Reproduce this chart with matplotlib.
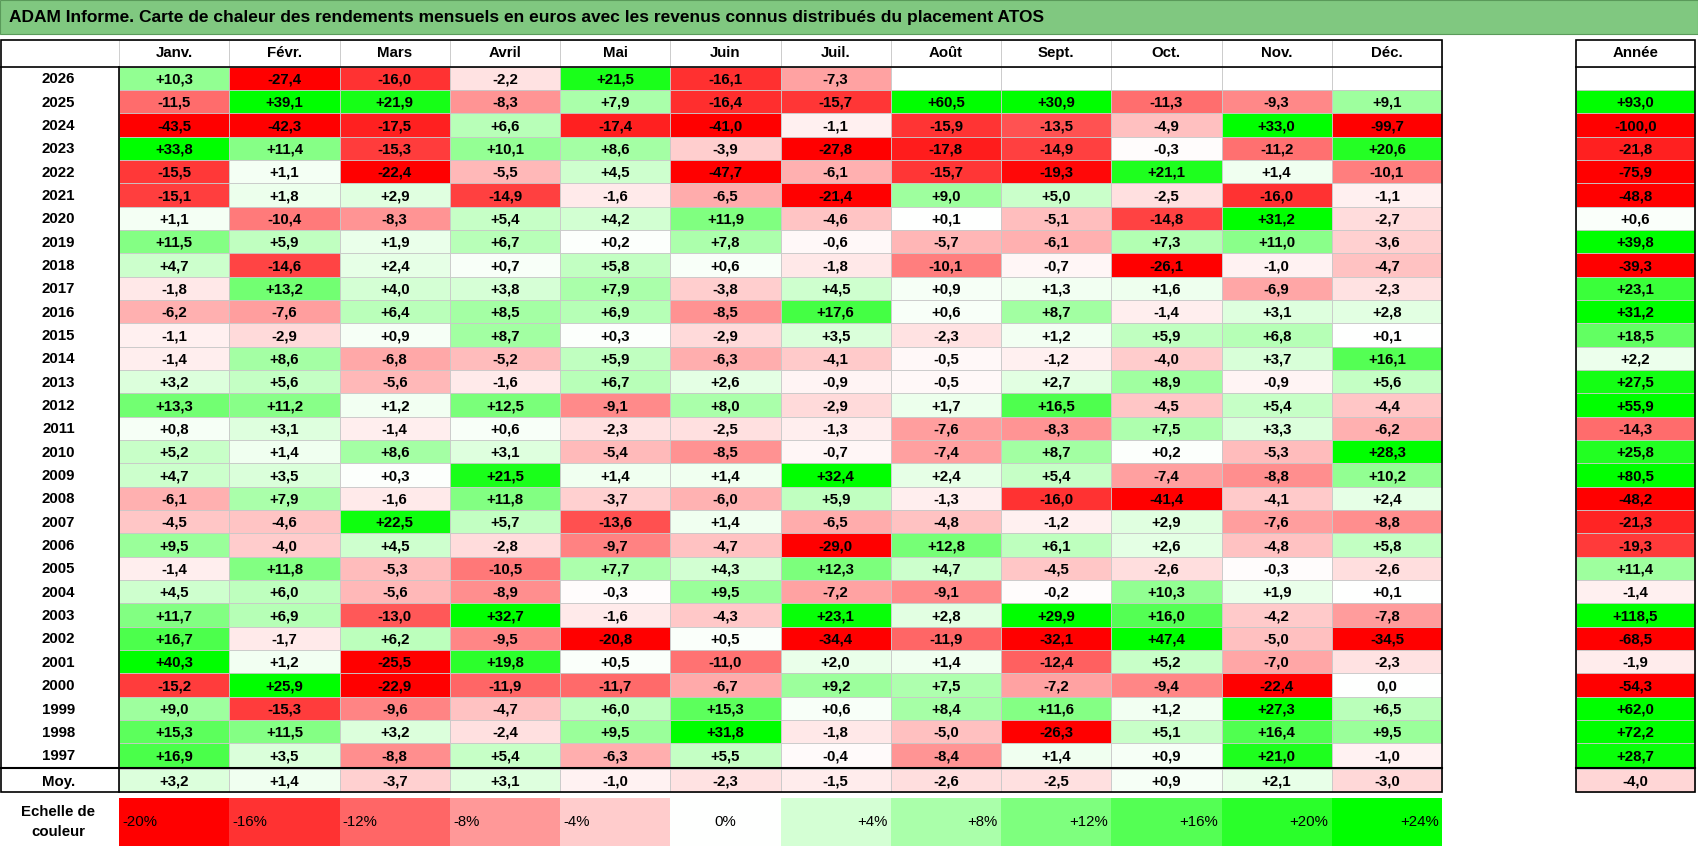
import numpy as np
import matplotlib.pyplot as plt
from matplotlib.patches import Rectangle
from matplotlib.colors import LinearSegmentedColormap, TwoSlopeNorm

TITLE = "ADAM Informe. Carte de chaleur des rendements mensuels en euros avec les revenus connus distribués du placement ATOS"
months = ["Janv.", "Févr.", "Mars", "Avril", "Mai", "Juin", "Juil.", "Août", "Sept.", "Oct.", "Nov.", "Déc."]
years = list(range(2026, 1996, -1))
nan = np.nan
monthly = [
    [10.3, -27.4, -16.0, -2.2, 21.5, -16.1, -7.3, nan, nan, nan, nan, nan],
    [-11.5, 39.1, 21.9, -8.3, 7.9, -16.4, -15.7, 60.5, 30.9, -11.3, -9.3, 9.1],
    [-43.5, -42.3, -17.5, 6.6, -17.4, -41.0, -1.1, -15.9, -13.5, -4.9, 33.0, -99.7],
    [33.8, 11.4, -15.3, 10.1, 8.6, -3.9, -27.8, -17.8, -14.9, -0.3, -11.2, 20.6],
    [-15.5, 1.1, -22.4, -5.5, 4.5, -47.7, -6.1, -15.7, -19.3, 21.1, 1.4, -10.1],
    [-15.1, 1.8, 2.9, -14.9, -1.6, -6.5, -21.4, 9.0, 5.0, -2.5, -16.0, -1.1],
    [1.1, -10.4, -8.3, 5.4, 4.2, 11.9, -4.6, 0.1, -5.1, -14.8, 31.2, -2.7],
    [11.5, 5.9, 1.9, 6.7, 0.2, 7.8, -0.6, -5.7, -6.1, 7.3, 11.0, -3.6],
    [4.7, -14.6, 2.4, 0.7, 5.8, 0.6, -1.8, -10.1, -0.7, -26.1, -1.0, -4.7],
    [-1.8, 13.2, 4.0, 3.8, 7.9, -3.8, 4.5, 0.9, 1.3, 1.6, -6.9, -2.3],
    [-6.2, -7.6, 6.4, 8.5, 6.9, -8.5, 17.6, 0.6, 8.7, -1.4, 3.1, 2.8],
    [-1.1, -2.9, 0.9, 8.7, 0.3, -2.9, 3.5, -2.3, 1.2, 5.9, 6.8, 0.1],
    [-1.4, 8.6, -6.8, -5.2, 5.9, -6.3, -4.1, -0.5, -1.2, -4.0, 3.7, 16.1],
    [3.2, 5.6, -5.6, -1.6, 6.7, 2.6, -0.9, -0.5, 2.7, 8.9, -0.9, 5.6],
    [13.3, 11.2, 1.2, 12.5, -9.1, 8.0, -2.9, 1.7, 16.5, -4.5, 5.4, -4.4],
    [0.8, 3.1, -1.4, 0.6, -2.3, -2.5, -1.3, -7.6, -8.3, 7.5, 3.3, -6.2],
    [5.2, 1.4, 8.6, 3.1, -5.4, -8.5, -0.7, -7.4, 8.7, 0.2, -5.3, 28.3],
    [4.7, 3.5, 0.3, 21.5, 1.4, 1.4, 32.4, 2.4, 5.4, -7.4, -8.8, 10.2],
    [-6.1, 7.9, -1.6, 11.8, -3.7, -6.0, 5.9, -1.3, -16.0, -41.4, -4.1, 2.4],
    [-4.5, -4.6, 22.5, 5.7, -13.6, 1.4, -6.5, -4.8, -1.2, 2.9, -7.6, -8.8],
    [9.5, -4.0, 4.5, -2.8, -9.7, -4.7, -29.0, 12.8, 6.1, 2.6, -4.8, 5.8],
    [-1.4, 11.8, -5.3, -10.5, 7.7, 4.3, 12.3, 4.7, -4.5, -2.6, -0.3, -2.6],
    [4.5, 6.0, -5.6, -8.9, -0.3, 9.5, -7.2, -9.1, -0.2, 10.3, 1.9, 0.1],
    [11.7, 6.9, -13.0, 32.7, -1.6, -4.3, 23.1, 2.8, 29.9, 16.0, -4.2, -7.8],
    [16.7, -1.7, 6.2, -9.5, -20.8, 0.5, -34.4, -11.9, -32.1, 47.4, -5.0, -34.5],
    [40.3, 1.2, -25.5, 19.8, 0.5, -11.0, 2.0, 1.4, -12.4, 5.2, -7.0, -2.3],
    [-15.2, 25.9, -22.9, -11.9, -11.7, -6.7, 9.2, 7.5, -7.2, -9.4, -22.4, 0.0],
    [9.0, -15.3, -9.6, -4.7, 6.0, 15.3, 0.6, 8.4, 11.6, 1.2, 27.3, 6.5],
    [15.3, 11.5, 3.2, -2.4, 9.5, 31.8, -1.8, -5.0, -26.3, 5.1, 16.4, 9.5],
    [16.9, 3.5, -8.8, 5.4, -6.3, 5.5, -0.4, -8.4, 1.4, 0.9, 21.0, -1.0],
]
annual = [nan, 93.0, -100.0, -21.8, -75.9, -48.8, 0.6, 39.8, -39.3, 23.1, 31.2, 18.5, 2.2,
          27.5, 55.9, -14.3, 25.8, 80.5, -48.2, -21.3, -19.3, 11.4, -1.4, 118.5, -68.5,
          -1.9, -54.3, 62.0, 72.2, 28.7]
avg_month = [3.2, 1.4, -3.7, 3.1, -1.0, -2.3, -1.5, -2.6, -2.5, 0.9, 2.1, -3.0]
avg_year = -4.0
scale_vals = [-20, -16, -12, -8, -4, 0, 4, 8, 12, 16, 20, 24]

cmap = LinearSegmentedColormap.from_list("rg", ["#ff0000", "#ffffff", "#00ff00"])
norm = TwoSlopeNorm(vcenter=0, vmin=-20, vmax=24)
norm_y = TwoSlopeNorm(vcenter=0, vmin=-25, vmax=30)

def fmt(v):
    return "0,0" if v == 0 else f"{v:+.1f}".replace(".", ",")

fig = plt.figure(figsize=(16.98, 8.48), dpi=100)
ax = fig.add_axes([0, 0, 1, 1])
ax.set_xlim(0, 1568)
ax.set_ylim(783, 0)
ax.axis("off")
FONT = dict(family="Liberation Sans", fontweight="bold", fontsize=10.8)

# title bar
ax.add_patch(Rectangle((0, 0), 1568, 31, fc="#80c880", ec="#5a9a5a", lw=0.8))
ax.text(8, 16, TITLE, ha="left", va="center", family="Liberation Sans", fontweight="bold", fontsize=12.5)

x0, cw = 110, 101.8
xy, yw = 1455, 110
y0, rh = 61.5, 21.55

def cell(x, y, w, h, v, nrm, txt=True):
    c = "white" if np.isnan(v) else cmap(nrm(v))
    ax.add_patch(Rectangle((x, y), w, h, fc=c, ec="#c8c8c8", lw=0.6))
    if txt and not np.isnan(v):
        ax.text(x + w / 2, y + h / 2 + 1, fmt(v), ha="center", va="center", **FONT)

# header
for j, m in enumerate(months):
    ax.add_patch(Rectangle((x0 + j * cw, 37), cw, y0 - 37, fc="white", ec="#c8c8c8", lw=0.6))
    ax.text(x0 + (j + 0.5) * cw, 49, m, ha="center", va="center", **FONT)
ax.text(xy + yw / 2, 49, "Année", ha="center", va="center", **FONT)

for i, yr in enumerate(years):
    y = y0 + i * rh
    ax.text(54, y + rh / 2 + 1, str(yr), ha="center", va="center", **FONT)
    for j in range(12):
        cell(x0 + j * cw, y, cw, rh, monthly[i][j], norm)
    cell(xy, y, yw, rh, annual[i], norm_y)

ym = y0 + len(years) * rh + 2
ax.text(54, ym + rh / 2 + 1, "Moy.", ha="center", va="center", **FONT)
for j in range(12):
    cell(x0 + j * cw, ym, cw, rh, avg_month[j], norm)
cell(xy, ym, yw, rh, avg_year, norm_y)

# outer borders
ax.add_patch(Rectangle((1, 37), x0 + 12 * cw - 1, ym + rh - 37, fc="none", ec="black", lw=1.2))
ax.plot([1, x0 + 12 * cw], [y0, y0], color="black", lw=1.2)
ax.plot([1, x0 + 12 * cw], [ym - 1, ym - 1], color="black", lw=1.5)
ax.plot([x0, x0], [y0, ym + rh], color="black", lw=1.2)
ax.add_patch(Rectangle((xy, 37), yw, ym + rh - 37, fc="none", ec="black", lw=1.2))
ax.plot([xy, xy + yw], [y0, y0], color="black", lw=1.2)
ax.plot([xy, xy + yw], [ym - 1, ym - 1], color="black", lw=1.5)

# colour scale
ys, sh = 737, 44
ax.text(54, ys + sh / 2, "Echelle de\ncouleur", ha="center", va="center", linespacing=1.5, **FONT)
for j, v in enumerate(scale_vals):
    x = x0 + j * cw
    ax.add_patch(Rectangle((x, ys), cw, sh, fc=cmap(norm(v)), ec="none"))
    lab = "0%" if v == 0 else f"{v:+d}%"
    if v < 0:
        ax.text(x + 3, ys + sh / 2, lab, ha="left", va="center", family="Liberation Sans", fontsize=10.8)
    elif v == 0:
        ax.text(x + cw / 2, ys + sh / 2, lab, ha="center", va="center", family="Liberation Sans", fontsize=10.8)
    else:
        ax.text(x + cw - 3, ys + sh / 2, lab, ha="right", va="center", family="Liberation Sans", fontsize=10.8)

fig.savefig("out.png", dpi=100)
